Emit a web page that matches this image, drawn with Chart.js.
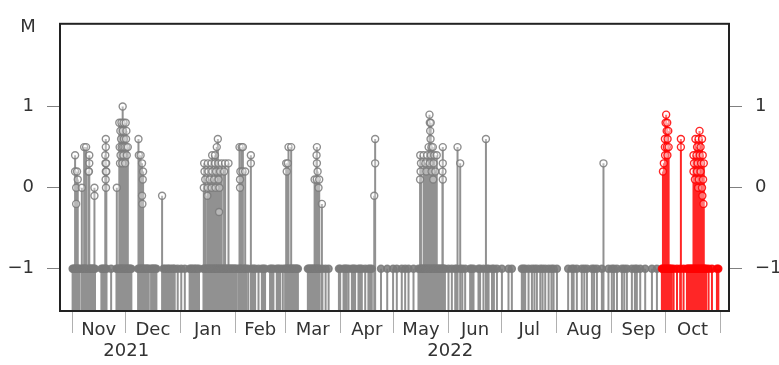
<!DOCTYPE html>
<html>
<head>
<meta charset="utf-8">
<script src="https://cdn.jsdelivr.net/npm/chart.js@4.4.1/dist/chart.umd.min.js"></script>
<style>
  body { margin: 0; background: #fff; }
</style>
</head>
<body>
<canvas id="quake-chart" width="779" height="365"></canvas>
<script>
/*
  Earthquake magnitudes, Nov 2021 - Oct 2022.
  x = days since 2021-11-01, y = magnitude M.
  Events without a real magnitude sit on the M = -1 floor.
*/

// events on the -1 floor (days)
const floorDays = [
  0.3, 0.8, 1.4, 2.0, 2.5, 3.1, 3.6, 4.2, 5.5, 6.0, 6.6, 7.1, 7.7, 8.2, 9.6, 10.1, 10.7, 11.2, 11.8, 12.3, 12.9,
  16.5, 17.2, 17.9, 18.6, 19.4, 22.0,
  25.0, 25.6, 26.2, 26.8, 27.4, 28.0, 28.6, 29.2, 29.8, 30.4, 31.0, 31.6, 32.2, 32.8, 33.4,
  37.2, 37.8, 38.4, 39.0, 39.6, 40.2, 40.8, 41.4, 42.0, 42.6, 43.2, 44.5, 45.1, 45.7, 46.3, 46.9, 47.5,
  51.5, 52.3, 53.4, 54.2, 55.0, 56.1, 57.0, 57.8, 59.5, 61.5, 63.5,
  66.2, 67.0, 67.8, 68.8, 69.6, 70.5, 71.5,
  74.0, 74.6, 75.2, 75.8, 76.4, 77.0, 77.6, 78.2, 78.8, 79.4, 80.0, 80.6, 81.2, 81.8, 82.4, 83.0, 83.6, 84.2,
  84.8, 85.4, 86.0, 86.6, 87.2, 87.8, 88.4, 89.0, 89.6, 90.2, 90.8, 91.4, 92.0, 92.6, 93.8, 94.4, 95.0, 95.6,
  96.8, 97.4, 98.0, 99.2,
  101.2, 102.2, 103.1, 105.0, 106.9, 107.8, 108.7, 111.5, 112.4, 113.4, 115.3, 116.2, 117.2, 118.7,
  120.0, 120.6, 121.2, 121.8, 122.4, 123.0, 123.6, 124.2, 124.8, 125.4, 126.0, 126.6, 127.2,
  132.8, 133.4, 134.0, 134.6, 135.2, 135.8, 136.4, 137.0, 137.6, 138.2, 138.8, 139.4, 141.0, 142.8, 144.5,
  150.3, 151.0, 152.9, 153.8, 154.5, 155.7, 157.6, 158.5, 159.4, 161.3, 162.2, 163.2, 165.1, 166.9, 167.8,
  168.8, 174.0, 177.5, 180.8, 182.9,
  185.7, 187.6, 189.5, 192.3, 195.1,
  196.2, 196.8, 197.4, 198.0, 198.6, 199.2, 199.8, 200.4, 201.0, 201.6, 202.2, 202.8, 203.4, 204.0, 204.6,
  205.2, 205.8, 206.4, 207.0, 207.6, 208.2, 208.8, 209.4, 210.0,
  212.0, 213.9, 215.8, 216.6, 218.6, 219.8, 221.4, 224.2, 225.0, 226.1, 228.9, 229.8, 231.7, 233.6, 234.6,
  236.5, 237.6, 239.3,
  242.1, 245.8, 247.7,
  253.3, 254.2, 255.2, 257.1, 259.0, 260.4, 261.8, 263.7, 265.0, 266.5, 268.4, 270.0, 271.2, 273.1, 279.4,
  281.5, 282.5, 284.3, 287.1, 288.5, 290.0, 292.8, 294.0, 295.6, 298.4,
  302.1, 304.0, 305.2, 306.9, 309.7, 311.0, 312.5, 315.3, 317.0, 318.1, 320.0, 322.8, 326.6, 329.4,
  332.2, 332.8, 333.4, 334.0, 334.6, 335.2, 335.8, 336.4, 337.0, 337.6, 338.8, 340.7, 342.5, 344.4,
  346.3, 346.9, 347.5, 348.1, 348.7, 349.3, 349.9, 350.5, 351.1, 351.7, 352.3, 352.9, 353.5, 354.1, 354.7,
  355.3, 355.9, 356.5, 357.1, 358.5, 360.4, 363.2, 364.0
];

// events with a measured magnitude (days / M, same order)
const quakeDays = [
  1.7, 1.7, 2.8, 3.2, 2.3, 5.5, 2.3,
  6.8, 7.9, 9.7, 9.7, 9.2, 9.5, 12.6, 12.6,
  19.0, 19.0, 18.7, 18.8, 19.2, 19.0, 19.3, 18.9, 19.1,
  28.5, 26.6, 27.8, 29.0, 30.2, 27.2, 28.6, 30.6, 27.6, 29.2, 30.4, 26.8, 27.9, 28.8, 29.6, 30.6, 31.4, 27.3, 28.9, 30.8, 27.0, 28.3, 29.9, 25.2,
  37.4, 37.6, 38.6, 39.4, 40.0, 39.8, 39.4, 39.6,
  50.7,
  82.1, 81.5, 78.9, 80.5, 74.4, 76.5, 78.6, 80.5, 82.4, 84.3, 86.2, 88.1, 74.6, 76.8, 79.0, 81.2, 83.4, 85.6, 75.0, 77.5, 80.0, 82.5, 74.2, 76.4, 78.6, 80.8, 83.0, 76.2, 82.8,
  94.3, 95.5, 96.2, 100.7, 100.7, 94.8, 96.0, 97.5, 94.6, 94.6,
  121.9, 123.4, 120.6, 121.5, 120.9,
  137.9, 137.7, 137.9, 138.3, 136.6, 137.8, 139.2, 138.8, 140.7,
  170.7, 170.7, 170.2,
  201.3, 201.5, 202.0, 201.7, 201.9, 200.8, 202.4, 203.2, 208.8, 196.1, 198.0, 200.0, 202.0, 204.0, 205.4, 196.5, 199.0, 201.4, 203.6, 208.8, 196.3, 199.5, 202.5, 204.6, 208.6, 196.0, 203.4, 208.8,
  217.1, 218.6, 233.1,
  299.3,
  334.6, 334.3, 335.2, 334.9, 335.8, 333.9, 335.4, 333.9, 335.0, 336.0, 334.0, 335.3, 333.3, 332.8,
  342.9, 342.9,
  353.4, 351.1, 352.9, 354.8, 352.0, 354.0, 350.0, 351.7, 353.5, 355.2, 350.3, 352.3, 354.3, 355.8, 350.0, 352.0, 354.0, 350.8, 353.0, 355.4, 352.6, 354.8, 355.0, 355.6
];
const quakeMags = [
  0.4, 0.2, 0.2, 0.1, 0.0, 0.0, -0.2,
  0.5, 0.5, 0.4, 0.3, 0.2, 0.2, 0.0, -0.1,
  0.6, 0.5, 0.4, 0.3, 0.3, 0.2, 0.2, 0.1, 0.0,
  1.0, 0.8, 0.8, 0.8, 0.8, 0.7, 0.7, 0.7, 0.6, 0.6, 0.6, 0.5, 0.5, 0.5, 0.5, 0.5, 0.5, 0.4, 0.4, 0.4, 0.3, 0.3, 0.3, 0.0,
  0.6, 0.4, 0.4, 0.3, 0.2, 0.1, -0.1, -0.2,
  -0.1,
  0.6, 0.5, 0.4, 0.4, 0.3, 0.3, 0.3, 0.3, 0.3, 0.3, 0.3, 0.3, 0.2, 0.2, 0.2, 0.2, 0.2, 0.2, 0.1, 0.1, 0.1, 0.1, 0.0, 0.0, 0.0, 0.0, 0.0, -0.1, -0.3,
  0.5, 0.5, 0.5, 0.4, 0.3, 0.2, 0.2, 0.2, 0.1, 0.0,
  0.5, 0.5, 0.3, 0.3, 0.2,
  0.5, 0.4, 0.3, 0.2, 0.1, 0.1, 0.1, 0.0, -0.2,
  0.6, 0.3, -0.1,
  0.9, 0.8, 0.8, 0.7, 0.6, 0.5, 0.5, 0.5, 0.5, 0.4, 0.4, 0.4, 0.4, 0.4, 0.4, 0.3, 0.3, 0.3, 0.3, 0.3, 0.2, 0.2, 0.2, 0.2, 0.2, 0.1, 0.1, 0.1,
  0.5, 0.3, 0.6,
  0.3,
  0.9, 0.8, 0.8, 0.7, 0.7, 0.6, 0.6, 0.5, 0.5, 0.5, 0.4, 0.4, 0.3, 0.2,
  0.6, 0.5,
  0.7, 0.6, 0.6, 0.6, 0.5, 0.5, 0.4, 0.4, 0.4, 0.4, 0.3, 0.3, 0.3, 0.3, 0.2, 0.2, 0.2, 0.1, 0.1, 0.1, 0.0, 0.0, -0.1, -0.2
];

const FLOOR_MAG = -1;
const RECENT_FROM = 331; // last weeks drawn in red

const monthNames = ['Nov', 'Dec', 'Jan', 'Feb', 'Mar', 'Apr', 'May', 'Jun', 'Jul', 'Aug', 'Sep', 'Oct'];
const monthStarts = [0, 30, 61, 92, 120, 151, 181, 212, 242, 273, 304, 334, 365];
const yearNames = ['2021', '2022'];
const yearFirstMonth = [0, 2]; // index in monthNames where each year starts
const yTickValues = [-1, 0, 1];

const X_MIN = -6.8, X_MAX = 370;
const Y_MIN = -1.52, Y_MAX = 2.02;

const GREY_STEM = 'rgba(118,118,118,0.8)';
const GREY = 'rgba(122,122,122,0.85)';
const RED = 'rgba(255,0,0,0.85)';

// stems run from the bottom of the plot up to each event
const oldStems = [], newStems = [];
const allDays = floorDays.concat(quakeDays);
const allMags = floorDays.map(() => FLOOR_MAG).concat(quakeMags);
allDays.forEach((d, i) => {
  const target = d >= RECENT_FROM ? newStems : oldStems;
  target.push({ x: d, y: Y_MIN }, { x: d, y: allMags[i] }, { x: d, y: null });
});

// markers: floor events form the solid -1 band, measured ones are open circles
const oldFloor = [], newFloor = [], oldDots = [], newDots = [];
floorDays.forEach((d) => (d >= RECENT_FROM ? newFloor : oldFloor).push({ x: d, y: FLOOR_MAG }));
quakeDays.forEach((d, i) => (d >= RECENT_FROM ? newDots : oldDots).push({ x: d, y: quakeMags[i] }));

const fmtMag = (v) => (v < 0 ? '\u2212' + Math.abs(v) : String(v));

const yAxis = (pos) => ({
  type: 'linear',
  position: pos,
  min: Y_MIN,
  max: Y_MAX,
  afterBuildTicks: (s) => { s.ticks = yTickValues.map((v) => ({ value: v })); },
  afterFit: (s) => { s.width = pos === 'left' ? 60 : 50; },
  grid: { drawOnChartArea: false, tickLength: 13, color: '#808080' },
  border: { display: false },
  ticks: { color: '#333', padding: 13, callback: (v) => fmtMag(v) },
});

const boxAndLabels = {
  id: 'boxAndLabels',
  afterDraw(chart) {
    const { ctx, chartArea: a, scales: { x } } = chart;
    ctx.save();
    ctx.strokeStyle = '#222';
    ctx.lineWidth = 2;
    ctx.strokeRect(a.left, a.top, a.right - a.left, a.bottom - a.top);

    ctx.fillStyle = '#333';
    ctx.font = '18px "DejaVu Sans"';
    ctx.textAlign = 'center';
    ctx.textBaseline = 'middle';
    monthNames.forEach((name, i) => {
      const c = (x.getPixelForValue(monthStarts[i]) + x.getPixelForValue(monthStarts[i + 1])) / 2;
      ctx.fillText(name, c, a.bottom + 19);
    });
    yearNames.forEach((name, i) => {
      const first = monthStarts[yearFirstMonth[i]];
      const last = monthStarts[i + 1 < yearNames.length ? yearFirstMonth[i + 1] : monthStarts.length - 1];
      const c = (x.getPixelForValue(first) + x.getPixelForValue(last)) / 2;
      ctx.fillText(name, c, a.bottom + 40);
    });
    ctx.fillText('M', a.left - 32, a.top + 4);
    ctx.restore();
  },
};

Chart.defaults.font.family = '"DejaVu Sans", sans-serif';
Chart.defaults.font.size = 18;

const dots = (data, color, fill, order) => ({
  data, order,
  pointRadius: 3.5,
  pointBorderWidth: 1.4,
  borderColor: color,
  backgroundColor: fill,
});

new Chart(document.getElementById('quake-chart').getContext('2d'), {
  type: 'scatter',
  data: {
    datasets: [
      { data: oldStems, showLine: true, spanGaps: false, borderColor: GREY_STEM, borderWidth: 2, pointRadius: 0, order: 6 },
      { data: newStems, showLine: true, spanGaps: false, borderColor: RED, borderWidth: 2, pointRadius: 0, order: 5 },
      dots(oldFloor, GREY, GREY, 4),
      dots(newFloor, RED, RED, 3),
      dots(oldDots, GREY, 'rgba(255,255,255,0.35)', 2),
      dots(newDots, RED, 'rgba(255,255,255,0.35)', 1),
    ],
  },
  options: {
    responsive: false,
    animation: false,
    layout: { padding: { top: 17, left: 0, right: 0, bottom: 0 } },
    plugins: { legend: { display: false }, tooltip: { enabled: false } },
    scales: {
      x: {
        type: 'linear',
        min: X_MIN,
        max: X_MAX,
        afterBuildTicks: (s) => { s.ticks = monthStarts.map((v) => ({ value: v })); },
        afterFit: (s) => { s.height = 54; },
        grid: { drawOnChartArea: false, tickLength: 22, color: '#b0b0b0' },
        border: { display: false },
        ticks: { callback: () => '' },
      },
      y: yAxis('left'),
      y2: yAxis('right'),
    },
  },
  plugins: [boxAndLabels],
});
</script>
</body>
</html>
